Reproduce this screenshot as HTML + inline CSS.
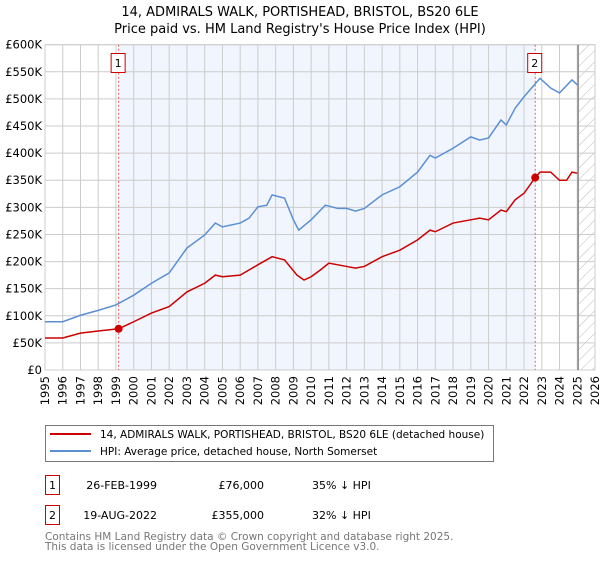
<!DOCTYPE html>
<html><head><meta charset="utf-8"><style>
body{margin:0;background:#fff;font-family:"DejaVu Sans","Liberation Sans",sans-serif;}
svg text{font-family:"DejaVu Sans","Liberation Sans",sans-serif;}
</style></head><body>
<svg id="c" width="600" height="560" viewBox="0 0 600 560" xmlns="http://www.w3.org/2000/svg">
<defs><pattern id="hatch" width="8" height="8" patternUnits="userSpaceOnUse" patternTransform="rotate(45)"><line x1="0" y1="0" x2="0" y2="8" stroke="#bbb" stroke-width="1"/></pattern></defs>
<text x="300" y="16" text-anchor="middle" font-size="13">14, ADMIRALS WALK, PORTISHEAD, BRISTOL, BS20 6LE</text>
<text x="300" y="33" text-anchor="middle" font-size="13">Price paid vs. HM Land Registry's House Price Index (HPI)</text>
<g id="plot"></g>
<g>
<rect x="45.5" y="425.5" width="448" height="36" fill="#fff" stroke="#777"/>
<line x1="50" y1="434" x2="91" y2="434" stroke="#cc0000" stroke-width="2"/>
<text x="100" y="438" font-size="10.5">14, ADMIRALS WALK, PORTISHEAD, BRISTOL, BS20 6LE (detached house)</text>
<line x1="50" y1="451" x2="91" y2="451" stroke="#5b8fd4" stroke-width="2"/>
<text x="100" y="455" font-size="10.5">HPI: Average price, detached house, North Somerset</text>
</g>
<g font-size="11">
<rect x="45.5" y="475.5" width="14" height="19" fill="#fff" stroke="#cc0000"/>
<text x="52.5" y="489" text-anchor="middle">1</text>
<text x="157" y="489" text-anchor="end">26-FEB-1999</text>
<text x="264" y="489" text-anchor="end">£76,000</text>
<text x="312" y="489">35% ↓ HPI</text>
<rect x="45.5" y="505.5" width="14" height="19" fill="#fff" stroke="#cc0000"/>
<text x="52.5" y="519" text-anchor="middle">2</text>
<text x="157" y="519" text-anchor="end">19-AUG-2022</text>
<text x="264" y="519" text-anchor="end">£355,000</text>
<text x="312" y="519">32% ↓ HPI</text>
</g>
<text x="45" y="540" font-size="10.5" fill="#777">Contains HM Land Registry data © Crown copyright and database right 2025.</text>
<text x="45" y="550" font-size="10.5" fill="#777">This data is licensed under the Open Government Licence v3.0.</text>
</svg>
<script>
const hpiYears=[1995,1996,1997,1998,1999,2000,2001,2002,2003,2004,2004.6,2005,2006,2006.5,2007,2007.5,2007.8,2008.5,2009,2009.3,2010,2010.8,2011.5,2012,2012.5,2013,2014,2015,2016,2016.7,2017,2018,2019,2019.5,2020,2020.7,2021,2021.5,2022,2022.9,2023.5,2024,2024.7,2025];
const hpiValues=[89,89,101,110,120,138,160,179,225,249,271,264,271,280,301,304,323,317,277,258,277,304,298,298,293,298,323,338,365,396,391,409,430,424,428,461,452,483,504,538,520,511,535,526];
const ppYears=[1995,1996,1997,1998,1999.15,2000,2001,2002,2003,2004,2004.6,2005,2006,2007,2007.8,2008.5,2009.2,2009.6,2010,2010.5,2011,2012,2012.5,2013,2014,2015,2016,2016.7,2017,2018,2019,2019.5,2020,2020.7,2021,2021.5,2022,2022.63,2022.9,2023.5,2024,2024.4,2024.7,2025];
const ppValues=[59,59,68,72,76,89,105,117,144,160,175,172,175,194,209,203,175,166,172,184,197,191,188,191,209,221,240,258,255,271,277,280,277,295,292,314,326,355,365,365,350,350,365,363];
const saleYears=[1999.15,2022.63];
const saleValues=[76,355];
const saleLabels=["1","2"];
const yTicks=[0,50,100,150,200,250,300,350,400,450,500,550,600];
const yTickLabels=["£0","£50K","£100K","£150K","£200K","£250K","£300K","£350K","£400K","£450K","£500K","£550K","£600K"];
const xTicks=[1995,1996,1997,1998,1999,2000,2001,2002,2003,2004,2005,2006,2007,2008,2009,2010,2011,2012,2013,2014,2015,2016,2017,2018,2019,2020,2021,2022,2023,2024,2025,2026];

const L=45,R=595,T=44.7,B=370;
const xs=y=>L+(y-1995)*(R-L)/31;
const ys=v=>B-v*(B-T)/600;
const NS="http://www.w3.org/2000/svg";
const g=document.getElementById('plot');
function mk(tag,attrs){const e=document.createElementNS(NS,tag);for(const k in attrs)e.setAttribute(k,attrs[k]);g.appendChild(e);return e;}

let e=mk('rect',{x:L,y:T,width:R-L,height:B-T,fill:'#fff'});


e=mk('rect',{x:xs(saleYears[0]),y:T,width:xs(saleYears[1])-xs(saleYears[0]),height:B-T,fill:'#f1f5fd'});


e=mk('rect',{x:xs(2025.05),y:T,width:R-xs(2025.05),height:B-T,fill:'url(#hatch)'});


yTicks.forEach((v,i)=>{
 let l=mk('line',{x1:L,x2:R,y1:ys(v),y2:ys(v),stroke:'#ccc','stroke-width':1});
 
 
 let t=mk('text',{x:L-3,y:ys(v)+4,'text-anchor':'end','font-size':11.5});
 t.textContent=yTickLabels[i];
 
 
});
xTicks.forEach(yr=>{
 let l=mk('line',{x1:xs(yr),x2:xs(yr),y1:T,y2:B,stroke:'#ccc','stroke-width':1});
 
 
 let t=mk('text',{x:0,y:0,'text-anchor':'end','font-size':11.5,transform:`translate(${xs(yr)+4},${B+6}) rotate(-90)`});
 t.textContent=yr;
 
 
});
e=mk('rect',{x:L,y:T,width:R-L,height:B-T,fill:'none',stroke:'#ccc'});


e=mk('line',{x1:xs(2025.05),x2:xs(2025.05),y1:T,y2:B,stroke:'#888','stroke-width':1.5});


saleYears.forEach((yr,i)=>{
 let l=mk('line',{x1:xs(yr),x2:xs(yr),y1:T,y2:B,stroke:'#e06060','stroke-dasharray':'2,2','stroke-width':1});
 
 
 let r=mk('rect',{x:xs(yr)-7.5,y:53.5,width:14,height:19,fill:'#fff',stroke:'#cc0000'});
 
 
 let t=mk('text',{x:xs(yr)-0.5,y:67,'text-anchor':'middle','font-size':11});
 t.textContent=saleLabels[i];
 
 
});
e=mk('polyline',{points:hpiYears.map((y,i)=>xs(y)+','+ys(hpiValues[i])).join(' '),fill:'none',stroke:'#5b8fd4','stroke-width':1.5});


e=mk('polyline',{points:ppYears.map((y,i)=>xs(y)+','+ys(ppValues[i])).join(' '),fill:'none',stroke:'#cc0000','stroke-width':1.5});


saleYears.forEach((yr,i)=>{
 let c=mk('circle',{cx:xs(yr),cy:ys(saleValues[i]),r:4,fill:'#cc0000'});
 
 
});
</script>
</body></html>
